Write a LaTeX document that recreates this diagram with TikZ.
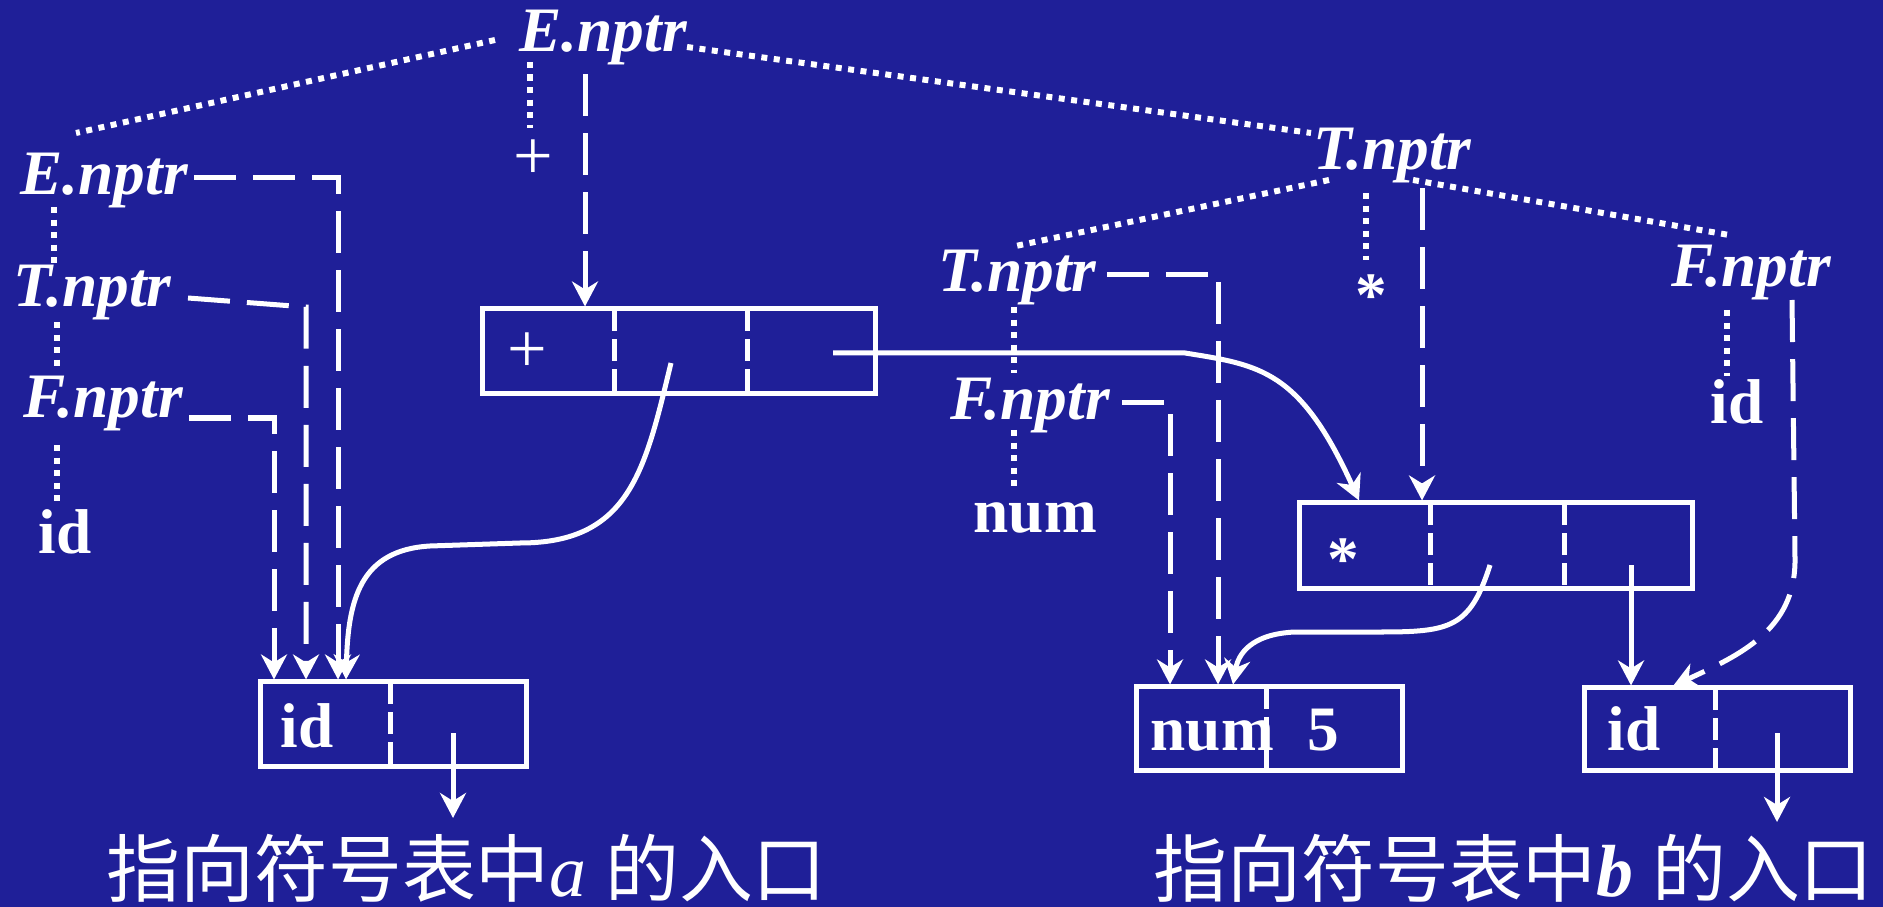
\documentclass[tikz,border=0pt]{standalone}
\usepackage{fontspec}
\setmainfont{Liberation Serif}
\newfontfamily\cjk{Noto Sans CJK SC}
\usetikzlibrary{arrows.meta}

\definecolor{slideblue}{RGB}{31,31,152}

\tikzset{
    attr/.style={text=white, inner sep=0pt, anchor=base west, font=\fontsize{18}{20}\selectfont\bfseries\itshape},
    tok/.style={text=white, inner sep=0pt, anchor=base west, font=\fontsize{18}{20}\selectfont\bfseries},
    op/.style={text=white, inner sep=0pt, anchor=base, font=\fontsize{20}{22}\selectfont},
    note/.style={text=white, inner sep=0pt, anchor=base west, font=\fontsize{21}{24}\selectfont},
    cell/.style={draw=white, line width=0.05cm, inner sep=0pt},
    split/.style={white, line width=0.05cm, dash pattern=on 0.22cm off 0.08cm},
    tree/.style={white, line width=0.06cm, dash pattern=on 0.06cm off 0.065cm},
    ptr/.style={white, line width=0.05cm, dash pattern=on 0.42cm off 0.17cm, -{Stealth[length=0.25cm, width=0.26cm, inset=0.08cm]}},
    link/.style={white, line width=0.05cm, -{Stealth[length=0.25cm, width=0.26cm, inset=0.08cm]}}
}

\begin{document}
\begin{tikzpicture}[x=0.01cm, y=-0.01cm]
    \fill[slideblue] (0,0) rectangle (1883,907);
    \useasboundingbox (0,0) rectangle (1883,907);

    % Parse tree labels
    \node[attr] (E0) at (519,52) {E.nptr};
    \node[op] (plus0) at (533,180) {+};
    \node[attr] (E1) at (20,195) {E.nptr};
    \node[attr] (T1) at (13,307) {T.nptr};
    \node[attr] (F1) at (23,418) {F.nptr};
    \node[tok] (id1) at (38,553) {id};
    \node[attr] (T0) at (1313,170) {T.nptr};
    \node[tok, anchor=base] (star0) at (1371,317) {*};
    \node[attr] (T2) at (938,292) {T.nptr};
    \node[attr] (F2) at (950,420) {F.nptr};
    \node[tok] (num2) at (973,532) {num};
    \node[attr] (F3) at (1671,287) {F.nptr};
    \node[tok] (id3) at (1710,424) {id};

    % Syntax tree boxes
    \node[cell, minimum width=3.92cm, minimum height=0.84cm] (plusbox) at (679,351) {};
    \node[cell, minimum width=3.92cm, minimum height=0.85cm] (starbox) at (1496,545.5) {};
    \node[cell, minimum width=2.65cm, minimum height=0.84cm] (idboxa) at (393.5,724) {};
    \node[cell, minimum width=2.65cm, minimum height=0.83cm] (numbox) at (1269.5,728.5) {};
    \node[cell, minimum width=2.65cm, minimum height=0.82cm] (idboxb) at (1717.5,729) {};

    % Box fields
    \node[op] (plusop) at (527,373) {+};
    \node[tok, anchor=base] (starop) at (1343,580) {*};
    \node[tok] (ida) at (280,747) {id};
    \node[tok] (numv) at (1150,750) {num};
    \node[tok] (five) at (1307,750) {5};
    \node[tok] (idb) at (1607,750) {id};

    \draw[split] (614,309) -- (614,393);
    \draw[split] (747,309) -- (747,393);
    \draw[split] (1430,503) -- (1430,588);
    \draw[split] (1564,503) -- (1564,588);
    \draw[split] (390,682) -- (390,766);
    \draw[split] (1266,687) -- (1266,770);
    \draw[split] (1715,688) -- (1715,770);

    % Bottom notes
    \node[note] (notea) at (106,896) {{\cjk 指向符号表中}\textit{a} {\cjk 的入口}};
    \node[note] (noteb) at (1153,896) {{\cjk 指向符号表中}\textbf{\textit{b}} {\cjk 的入口}};

    % Joints
    \coordinate (E0w) at (495,40);
    \coordinate (E1n) at (76,133);
    \coordinate (E0e) at (687,47);
    \coordinate (T0w) at (1311,133);
    \coordinate (E0s) at (530,62);
    \coordinate (plus0n) at (530,128);
    \coordinate (E1s) at (54,207);
    \coordinate (T1n) at (54,267);
    \coordinate (T1s) at (57,322);
    \coordinate (F1n) at (57,367);
    \coordinate (F1s) at (57,445);
    \coordinate (id1n) at (57,503);
    \coordinate (T0sw) at (1329,180);
    \coordinate (T2n) at (1011,247);
    \coordinate (T0se) at (1413,180);
    \coordinate (F3n) at (1729,235);
    \coordinate (T0s) at (1366,193);
    \coordinate (star0n) at (1366,260);
    \coordinate (T2s) at (1014,307);
    \coordinate (F2n) at (1014,373);
    \coordinate (F2s) at (1014,430);
    \coordinate (num2n) at (1014,487);
    \coordinate (F3s) at (1727,310);
    \coordinate (id3n) at (1727,376);

    \coordinate (E0p) at (585,74);
    \coordinate (E1p) at (194,178);
    \coordinate (T1p) at (188,298);
    \coordinate (T1c) at (306,307);
    \coordinate (F1p) at (189,418);
    \coordinate (T0p) at (1422,188);
    \coordinate (T2p) at (1107,275);
    \coordinate (F2p) at (1122,403);
    \coordinate (F3p) at (1792,300);
    \coordinate (F3c) at (1795,560);
    \coordinate (idbn) at (1673,686);

    \coordinate (plusl) at (671,363);
    \coordinate (plusr) at (833,353);
    \coordinate (starl) at (1490,565);
    \coordinate (starr) at (1631,565);
    \coordinate (idap) at (453,733);
    \coordinate (aentry) at (453,818);
    \coordinate (idbp) at (1777,733);
    \coordinate (bentry) at (1777,822);

    % Dotted tree edges
    \draw[tree] (E0w) -- (E1n);
    \draw[tree] (E0e) -- (T0w);
    \draw[tree] (E0s) -- (plus0n);
    \draw[tree] (E1s) -- (T1n);
    \draw[tree] (T1s) -- (F1n);
    \draw[tree] (F1s) -- (id1n);
    \draw[tree] (T0sw) -- (T2n);
    \draw[tree] (T0se) -- (F3n);
    \draw[tree] (T0s) -- (star0n);
    \draw[tree] (T2s) -- (F2n);
    \draw[tree] (F2s) -- (num2n);
    \draw[tree] (F3s) -- (id3n);

    % Dashed nptr arrows
    \draw[ptr] (E0p) -- (E0p |- plusbox.north);
    \draw[ptr] (E1p) -| (idboxa.north -| 338,0);
    \draw[ptr] (T1p) -- (T1c) -- (idboxa.north -| T1c);
    \draw[ptr] (F1p) -| (idboxa.north -| 274,0);
    \draw[ptr] (T0p) -- (T0p |- starbox.north);
    \draw[ptr] (T2p) -| (numbox.north -| 1218,0);
    \draw[ptr] (F2p) -| (numbox.north -| 1170,0);
    \draw[ptr] (F3p) -- (F3c) .. controls (1795,630) and (1740,655) .. (idbn);

    % Field pointers
    \draw[link] (plusl) .. controls (645,470) and (630,543) .. (520,543) -- (430,546) .. controls (360,550) and (348,600) .. (idboxa.north -| 346,0);
    \draw[link] (plusr) -- (1185,353) .. controls (1260,365) and (1300,370) .. (starbox.north -| 1359,0);
    \draw[link] (starl) .. controls (1470,628) and (1450,632) .. (1380,632) -- (1295,632) .. controls (1250,634) and (1238,655) .. (numbox.north -| 1233,0);
    \draw[link] (starr) -- (starr |- idboxb.north);
    \draw[link] (idap) -- (aentry);
    \draw[link] (idbp) -- (bentry);
\end{tikzpicture}
\end{document}
